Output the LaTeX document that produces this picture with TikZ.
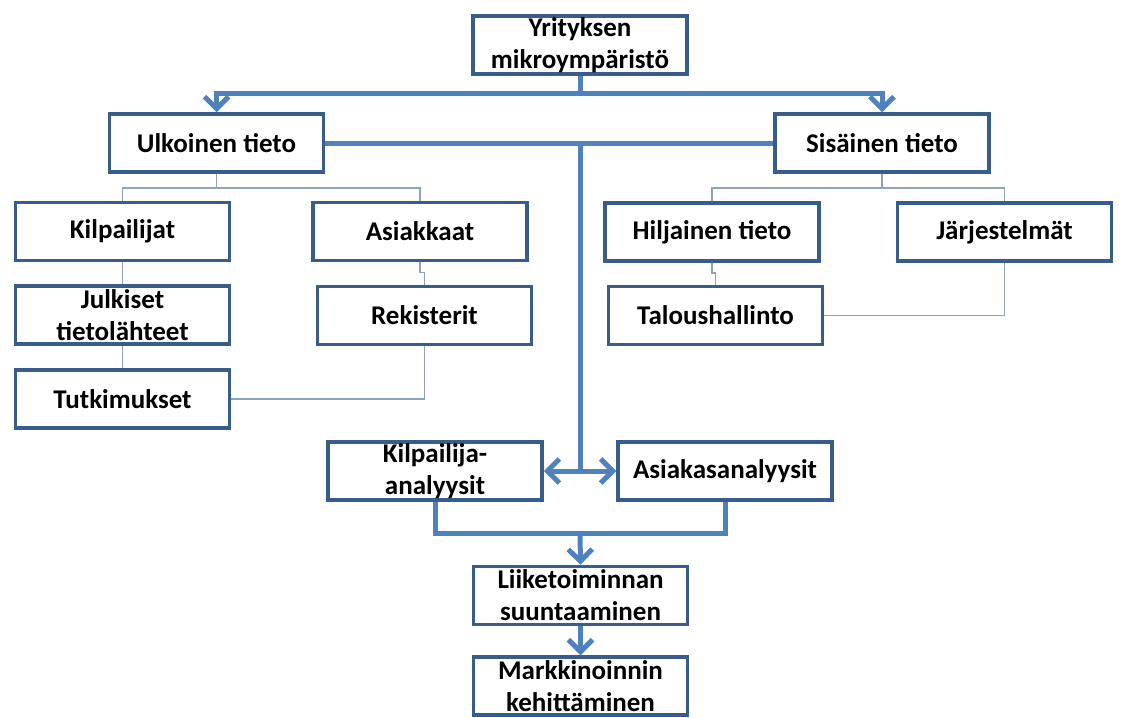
\documentclass[tikz,border=0pt]{standalone}
\usepackage{fontspec}
\setmainfont{Carlito}
\usetikzlibrary{arrows.meta}
\definecolor{boxblue}{RGB}{56,93,138}
\definecolor{linkblue}{RGB}{79,129,189}
\definecolor{twigblue}{RGB}{143,163,192}

\begin{document}
\begin{tikzpicture}[x=1pt, y=-1pt,
    box/.style={draw=boxblue, line width=3.5pt, fill=white, align=center, inner sep=0pt,
      font=\fontsize{27}{32}\selectfont\bfseries, minimum width=214pt, minimum height=58pt},
    link/.style={draw=linkblue, line width=5pt},
    twig/.style={draw=twigblue, line width=1.5pt},
    >={Straight Barb[length=12pt,width=24pt]}]

  \useasboundingbox (0,0) rectangle (1123,717);

  \node[box] (Y) at (580,45) {Yrityksen\\mikroympäristö};
  \node[box] (U) at (216.5,143) {Ulkoinen tieto};
  \node[box] (S) at (882,143) {Sisäinen tieto};
  \node[box] (K) at (122.5,231.5) {Kilpailijat};
  \node[box] (A) at (420,231.5) {Asiakkaat};
  \node[box] (H) at (712,232) {Hiljainen tieto};
  \node[box] (J) at (1004.5,232) {Järjestelmät};
  \node[box] (JT) at (122.5,315) {Julkiset\\tietolähteet};
  \node[box] (T) at (122.5,399) {Tutkimukset};
  \node[box] (R) at (424.5,315.5) {Rekisterit};
  \node[box] (TH) at (715.5,315.5) {Taloushallinto};
  \node[box] (KA) at (435,471) {Kilpailija-\\analyysit};
  \node[box] (AA) at (725,471) {Asiakasanalyysit};
  \node[box] (L) at (580.5,595.5) {Liiketoiminnan\\suuntaaminen};
  \node[box] (M) at (580.5,686) {Markkinoinnin\\kehittäminen};

  \coordinate (Yfork) at (580,93);
  \coordinate (Ufork) at (216.5,188);
  \coordinate (Sfork) at (882,188);
  \coordinate (hub) at (580,143);
  \coordinate (split) at (580,471);
  \coordinate (join) at (580,533);

  \draw[twig] (U.south) -- (Ufork);
  \draw[twig] (K.north) |- (Ufork) -| (A.north);
  \draw[twig] (S.south) -- (Sfork);
  \draw[twig] (H.north) |- (Sfork) -| (J.north);
  \draw[twig] (K) -- (JT);
  \draw[twig] (JT) -- (T);
  \draw[twig] (A.south) -- ++(0,10) -| (R.north);
  \draw[twig] (R.south) |- (T.east);
  \draw[twig] (H.south) -- ++(0,10) -| (TH.north);
  \draw[twig] (J.south) |- (TH.east);

  \draw[link] (Y.south) -- (Yfork);
  \draw[link,<->] (U.north) |- (Yfork) -| (S.north);
  \draw[link] (U.east) -- (S.west);
  \draw[link] (hub) -- (split);
  \draw[link,<->] (KA.east) -- (AA.west);
  \draw[link] (KA.south) |- (join) -| (AA.south);
  \draw[link,->] (join) -- (L.north);
  \draw[link,->] (L.south) -- (M.north);

\end{tikzpicture}
\end{document}
